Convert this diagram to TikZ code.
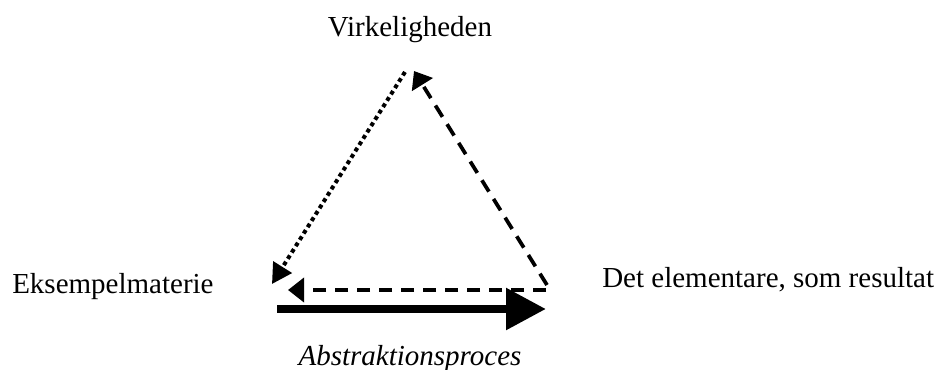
\documentclass[tikz,border=0pt]{standalone}
\usepackage{fontspec}
\setmainfont{Liberation Serif}
\usetikzlibrary{arrows.meta}
\begin{document}
\begin{tikzpicture}[x=0.75pt,y=-0.75pt,
  lbl/.style={inner sep=0pt,font=\fontsize{21.75}{26}\selectfont},
  dotline/.style={line width=3pt,line cap=butt,dash pattern=on 3pt off 2.6pt,-{Triangle[length=15pt,width=16pt]}},
  dashline/.style={line width=2.8pt,dash pattern=on 10pt off 6.5pt,-{Triangle[length=12pt,width=18pt]}},
  thickarrow/.style={line width=6.5pt,-{Triangle[length=30pt,width=30pt]}}]
\useasboundingbox (0,0) rectangle (941,370);
\node[lbl,anchor=base] (virk) at (410,37) {Virkeligheden};
\node[lbl,anchor=base west] (eks) at (12,293) {Eksempelmaterie};
\node[lbl,anchor=base west] (det) at (602,287) {Det elementare, som resultat};
\node[lbl,anchor=base] (abs) at (410,365) {\itshape Abstraktionsproces};
\coordinate (t1) at (405,72);
\coordinate (d1) at (272,284);
\coordinate (r1) at (547,285);
\coordinate (t2) at (414,71);
\coordinate (r2) at (546,290);
\coordinate (l2) at (288,290);
\coordinate (l3) at (277,309);
\coordinate (r3) at (546,309);
\draw[dotline] (t1) -- (d1);
\draw[dashline] (r1) -- (t2);
\draw[dashline] (r2) -- (l2);
\draw[thickarrow] (l3) -- (r3);
\end{tikzpicture}
\end{document}
